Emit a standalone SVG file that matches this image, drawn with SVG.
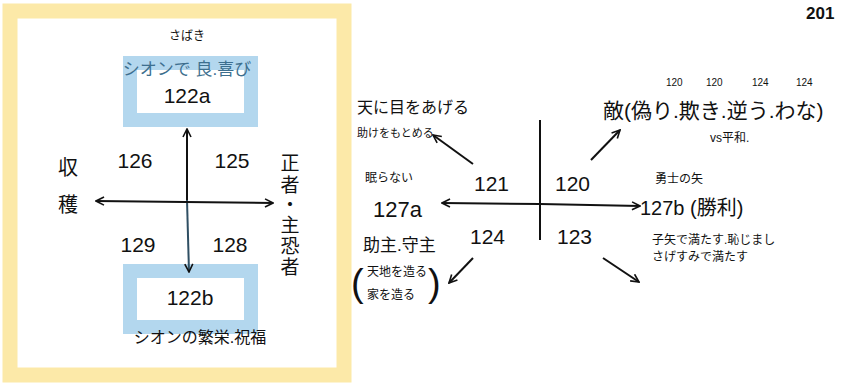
<svg xmlns="http://www.w3.org/2000/svg" width="843" height="383" viewBox="0 0 843 383">
<style>
text{font-family:"Liberation Sans","Noto Sans CJK JP",sans-serif;fill:#111}
.n{font-size:21px}
.s{font-size:12px}
.m{font-size:16px}
.ln{stroke:#111;stroke-width:2;fill:none}
.blue{fill:none;stroke:#b3d7ee;stroke-width:14}
</style>
<defs>
<marker id="ah" viewBox="0 0 10 10" refX="9" refY="5" markerWidth="10" markerHeight="10" markerUnits="userSpaceOnUse" orient="auto">
<path d="M1,1 L9,5 L1,9" fill="none" stroke="#111" stroke-width="1.6"/>
</marker>
</defs>
<rect x="0" y="0" width="843" height="383" fill="#fff"/>
<rect id="panel" x="10" y="11" width="334" height="364" fill="#fff" stroke="#fce9a8" stroke-width="15"/>
<text x="806" y="19" style="font-size:17px;font-weight:bold">201</text>
<g id="box122a">
<rect class="blue" x="130" y="63" width="121" height="57"/>
<text x="187" y="40" class="s" text-anchor="middle">さばき</text>
<text x="187" y="75" text-anchor="middle" style="font-size:17px;fill:#3d6f8e">シオンで 良.喜び</text>
<text x="187" y="103" class="n" text-anchor="middle">122a</text>
</g>
<g id="box122b">
<rect class="blue" x="130" y="271" width="121" height="56"/>
<text x="190" y="305" class="n" text-anchor="middle">122b</text>
<text x="200" y="343" class="m" text-anchor="middle">シオンの繁栄.祝福</text>
</g>
<g id="leftlabels">
<text x="135" y="168" class="n" text-anchor="middle">126</text>
<text x="232" y="168" class="n" text-anchor="middle">125</text>
<text x="138" y="252" class="n" text-anchor="middle">129</text>
<text x="230" y="252" class="n" text-anchor="middle">128</text>
<text x="68" y="175" style="font-size:20px" text-anchor="middle">収</text>
<text x="68" y="212" style="font-size:20px" text-anchor="middle">穫</text>
<g style="font-size:19px" text-anchor="middle">
<text x="290" y="170">正</text>
<text x="290" y="192">者</text>
<text x="290" y="212">・</text>
<text x="290" y="232">主</text>
<text x="290" y="253">恐</text>
<text x="290" y="274">者</text>
</g>
</g>
<g id="rightlabels">
<text x="357" y="113" class="m">天に目をあげる</text>
<text x="357" y="137" style="font-size:11px">助けをもとめる</text>
<text x="365" y="182" class="s">眠らない</text>
<text x="373" y="217" style="font-size:22px">127a</text>
<text x="363" y="251" style="font-size:17px">助主.守主</text>
<text x="351" y="296" style="font-size:38px">(</text>
<text x="367" y="276" class="s">天地を造る</text>
<text x="367" y="299" class="s">家を造る</text>
<text x="428" y="296" style="font-size:38px">)</text>
<text x="474" y="191" class="n">121</text>
<text x="555" y="191" class="n">120</text>
<text x="470" y="244" class="n">124</text>
<text x="557" y="244" class="n">123</text>
<text x="603" y="118" style="font-size:21px">敵(偽り.欺き.逆う.わな)</text>
<text x="666" y="86" style="font-size:10px">120</text>
<text x="706" y="86" style="font-size:10px">120</text>
<text x="752" y="86" style="font-size:10px">124</text>
<text x="796" y="86" style="font-size:10px">124</text>
<text x="710" y="142" class="s">vs平和.</text>
<text x="655" y="183" class="s">勇士の矢</text>
<text x="640" y="215" style="font-size:20px">127b (勝利)</text>
<text x="652" y="244" class="s">子矢で満たす.恥じまし</text>
<text x="652" y="261" class="s">さげすみで満たす</text>
</g>
<g id="connectors">
<line class="ln" x1="187" y1="200" x2="187" y2="129" marker-end="url(#ah)"/>
<line class="ln" x1="187" y1="200" x2="189" y2="272" marker-end="url(#ah)" style="stroke:#2f4f63"/>
<line class="ln" x1="185" y1="202" x2="96" y2="201" marker-end="url(#ah)"/>
<line class="ln" x1="185" y1="202" x2="273" y2="203" marker-end="url(#ah)"/>
<line class="ln" x1="540" y1="120" x2="540" y2="240"/>
<line class="ln" x1="540" y1="204" x2="442" y2="203" marker-end="url(#ah)"/>
<line class="ln" x1="540" y1="204" x2="640" y2="206" marker-end="url(#ah)"/>
<line class="ln" x1="473" y1="164" x2="433" y2="135" marker-end="url(#ah)"/>
<line class="ln" x1="591" y1="160" x2="620" y2="130" marker-end="url(#ah)"/>
<line class="ln" x1="473" y1="258" x2="449" y2="283" marker-end="url(#ah)"/>
<line class="ln" x1="603" y1="258" x2="639" y2="282" marker-end="url(#ah)"/>
</g>
</svg>
